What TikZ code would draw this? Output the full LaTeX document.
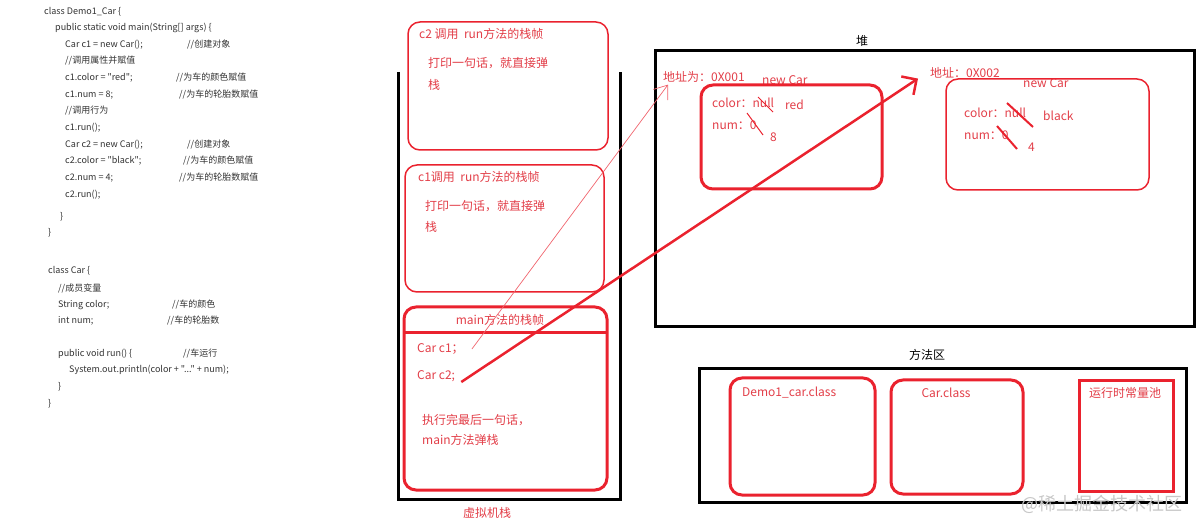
\documentclass[tikz,border=0pt]{standalone}
\usepackage{fontspec}
\setmainfont{Noto Sans CJK SC}[Ligatures=TeXOff]
\usepackage{xcolor}
\usetikzlibrary{arrows.meta, positioning}

\definecolor{framered}{RGB}{234,34,46}
\definecolor{textred}{RGB}{226,62,72}
\definecolor{codegray}{RGB}{50,50,50}

\begin{document}
\begin{tikzpicture}[x=1pt, y=-1pt,
  code/.style={anchor=west, inner sep=0pt, text=codegray, font=\fontsize{9}{10}\selectfont},
  redtext/.style={anchor=west, inner sep=0pt, text=textred, font=\fontsize{12}{14}\selectfont},
  areatitle/.style={inner sep=0pt, font=\fontsize{12}{14}\selectfont},
  area/.style={draw=black, line width=3pt},
  thinframe/.style={draw=framered, line width=1.5pt, rounded corners=12pt},
  thickframe/.style={draw=framered, line width=3pt, rounded corners=12pt},
  strike/.style={draw=framered, line width=1pt},
  ref/.style={draw=framered, -{Straight Barb[length=12pt, width=18pt]}}
]
\useasboundingbox (0,0) rectangle (1200,529);

% source code
\node[code] (l1) at (44,12) {class Demo1\_Car \{};
\node[code] (l2) at (55,28) {public static void main(String[] args) \{};
\node[code] (l3) at (65,45) {Car c1 = new Car();};
\node[code] (l3c) at (187,45) {//创建对象};
\node[code] (l4) at (65,61) {//调用属性并赋值};
\node[code] (l5) at (65,78) {c1.color = "red";};
\node[code] (l5c) at (176,78) {//为车的颜色赋值};
\node[code] (l6) at (65,95) {c1.num = 8;};
\node[code] (l6c) at (179,95) {//为车的轮胎数赋值};
\node[code] (l7) at (65,111) {//调用行为};
\node[code] (l8) at (65,128) {c1.run();};
\node[code] (l9) at (65,145) {Car c2 = new Car();};
\node[code] (l9c) at (187,145) {//创建对象};
\node[code] (l10) at (65,161) {c2.color = "black";};
\node[code] (l10c) at (183,161) {//为车的颜色赋值};
\node[code] (l11) at (65,178) {c2.num = 4;};
\node[code] (l11c) at (179,178) {//为车的轮胎数赋值};
\node[code] (l12) at (65,195) {c2.run();};
\node[code] (l13) at (60,217) {\}};
\node[code] (l14) at (48,233) {\}};

\node[code] (k1) at (48,271) {class Car \{};
\node[code] (k2) at (58,288) {//成员变量};
\node[code] (k3) at (58,305) {String color;};
\node[code] (k3c) at (172,305) {//车的颜色};
\node[code] (k4) at (58,321) {int num;};
\node[code] (k4c) at (167,321) {//车的轮胎数};
\node[code] (k5) at (58,354) {public void run() \{};
\node[code] (k5c) at (183,354) {//车运行};
\node[code] (k6) at (69,370) {System.out.println(color + "..." + num);};
\node[code] (k7) at (58,387) {\}};
\node[code] (k8) at (48,404) {\}};

% stack
\draw[area] (398,72) -- (398,499) -- (620,499) -- (620,72);
\node[areatitle, text=textred] (stacktitle) at (487,513) {虚拟机栈};

\draw[thinframe] (408,22) rectangle (608,150);
\node[redtext] (c2title) at (419,34) {c2 调用\ \ run方法的栈帧};
\node[redtext] (c2body) at (428,63) {打印一句话，就直接弹};
\node[redtext] (c2body2) at (428,85) {栈};

\draw[thinframe] (405,165) rectangle (604,292);
\node[redtext] (c1title) at (418,177) {c1调用\ \ run方法的栈帧};
\node[redtext] (c1body) at (425,206) {打印一句话，就直接弹};
\node[redtext] (c1body2) at (425,227) {栈};

\draw[thickframe] (404,307) rectangle (607,490);
\draw[framered, line width=3pt] (404,333) -- (607,333);
\node[areatitle, text=textred] (maintitle) at (500,320) {main方法的栈帧};
\node[redtext] (varone) at (417,349) {Car c1；};
\node[redtext] (vartwo) at (417,376) {Car c2;};
\node[redtext] (mainbody) at (422,420) {执行完最后一句话，};
\node[redtext] (mainbody2) at (422,440) {main方法弹栈};

% heap
\node[areatitle] (heaptitle) at (862,41) {堆};
\draw[area] (655,51) rectangle (1194,327);

\node[redtext] (addrone) at (663,77) {地址为：0X001};
\node[redtext] (newone) at (762,80) {new Car};
\node[redtext] (colorone) at (712,103) {color：null};
\node[redtext] (redval) at (785,105) {red};
\node[redtext] (numone) at (712,125) {num：0};
\node[redtext] (eight) at (770,137) {8};
\draw[strike] (758,97) -- (773,112);
\draw[strike] (747,113) -- (763,135);
\draw[thickframe] (701,85) rectangle (882,189);

\node[redtext] (addrtwo) at (930,73) {地址：0X002};
\node[redtext] (newtwo) at (1023,83) {new Car};
\node[redtext] (colortwo) at (964,113) {color：null};
\node[redtext] (blackval) at (1043,116) {black};
\node[redtext] (numtwo) at (964,135) {num：0};
\node[redtext] (four) at (1028,147) {4};
\draw[strike, line width=2pt] (1007,103) -- (1033,127);
\draw[strike, line width=2pt] (997,126) -- (1017,149);
\draw[thinframe] (946,79) rectangle (1149,190);

% method area
\node[areatitle] (methodtitle) at (927,355) {方法区};
\draw[area] (699,369) rectangle (1186,502);
\draw[thickframe] (730,378) rectangle (875,495);
\node[redtext] (democlass) at (742,393) {Demo1\_car.class};
\draw[thickframe] (891,380) rectangle (1023,494);
\node[areatitle, text=textred] (carclass) at (946,393) {Car.class};
\draw[framered, line width=3pt] (1079,381) rectangle (1173,491);
\node[redtext] (pool) at (1089,393) {运行时常量池};

\node[anchor=east, inner sep=0pt, text=black!22, font=\fontsize{18}{20}\selectfont] (mark) at (1183,504) {@稀土掘金技术社区};

% references
\draw[ref, line width=0.7pt, draw=framered!70] ([xshift=8pt]varone.east) -- ([xshift=5pt,yshift=-2pt]addrone.south west);
\draw[ref, line width=2.5pt, -{Straight Barb[length=11pt, width=22pt]}] ([xshift=6pt,yshift=-6pt]vartwo.east) -- ([xshift=-12pt]addrtwo.south west);
\end{tikzpicture}
\end{document}
